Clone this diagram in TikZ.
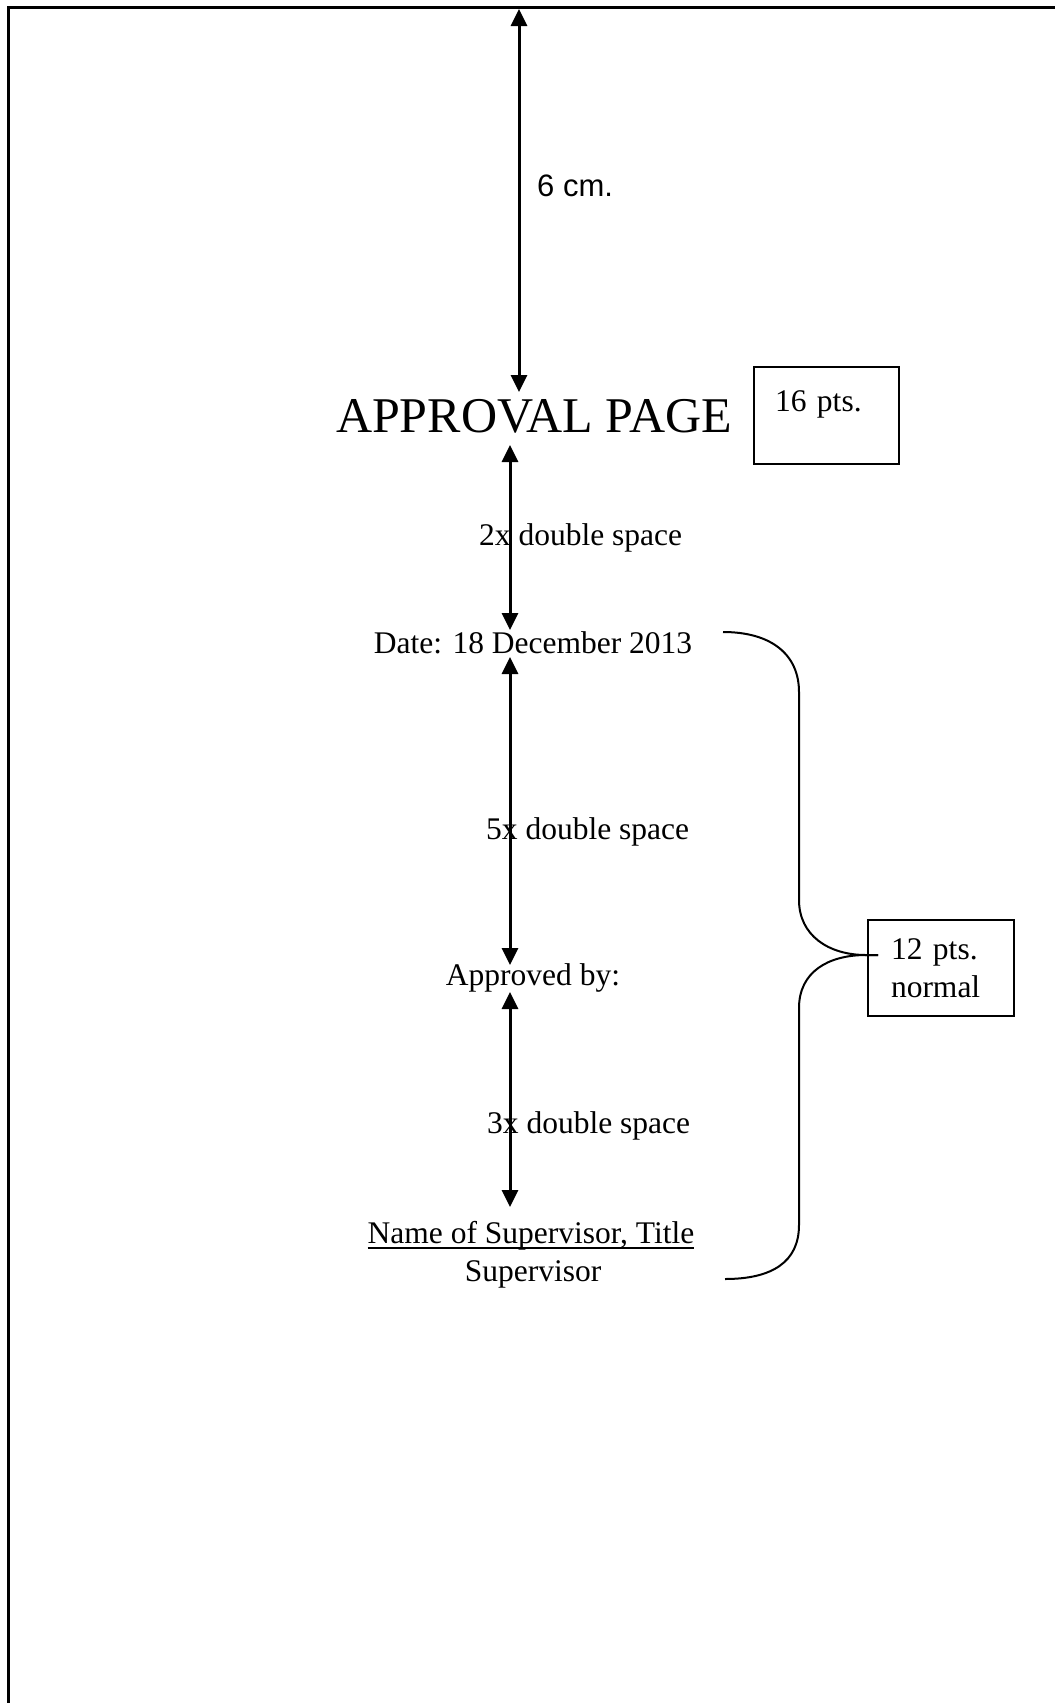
\documentclass[tikz,border=0pt]{standalone}
\usepackage{fontspec}
\setmainfont{Liberation Serif}
\newfontfamily\arialf{Liberation Sans}
\usetikzlibrary{arrows.meta}
\begin{document}
\begin{tikzpicture}[x=1pt,y=-1pt,
  dimarrow/.style={line width=3pt, {Triangle[length=17pt,width=16pt]}-{Triangle[length=17pt,width=16pt]}},
  txt/.style={inner sep=0pt, anchor=base, font=\fontsize{31.5}{38}\selectfont},
  lbl/.style={inner sep=0pt, anchor=base west, font=\fontsize{31.5}{38}\selectfont},
  thinline/.style={line width=2pt},
  ]
\useasboundingbox (0,0) rectangle (1055,1703);
% page frame
\draw[line width=3pt, line join=miter] (1055,7) -- (8,7) -- (8,1703);

% texts
\node[inner sep=0pt, anchor=base, font=\fontsize{50}{60}\selectfont] (title) at (534,432) {APPROVAL PAGE};
\node[txt] (date) at (533,653) {Date: 18 December 2013};
\node[txt] (appr) at (533,985) {Approved by:};
\node[txt] (name) at (531,1243) {Name of Supervisor, Title};
\node[txt] (sup) at (533,1281) {Supervisor};
\draw[thinline] ([yshift=-5pt]name.base west) -- ([yshift=-5pt]name.base east);

% boxes
\node[draw, thinline, anchor=north west, inner xsep=21pt, inner ysep=0pt,
      text width=103pt, text height=44pt, text depth=53pt, align=left,
      font=\fontsize{31.5}{38}\selectfont] (box16) at (753,366) {16 pts.};
\node[draw, thinline, anchor=north west, inner xsep=23pt, inner ysep=0pt,
      text width=100pt, minimum height=96pt, align=left,
      font=\fontsize{31.5}{38}\selectfont] (box12) at (867,919) {12 pts.\\normal};

% dimension arrows
\coordinate (a1t) at (519,9);
\coordinate (a1b) at (519,392);
\draw[dimarrow] (a1t) -- (a1b);
\node[inner sep=0pt, anchor=base west, font=\arialf\fontsize{31}{37}\selectfont] (l6) at (537,196) {6 cm.};

\coordinate (a2t) at (510,445);
\coordinate (a2b) at (510,630);
\draw[dimarrow] (a2t) -- (a2b);
\node[lbl] (l2) at (479,545) {2x double space};

\coordinate (a3t) at (510,657);
\coordinate (a3b) at (510,965);
\draw[dimarrow] (a3t) -- (a3b);
\node[lbl] (l5) at (486,839) {5x double space};

\coordinate (a4t) at (510,992);
\coordinate (a4b) at (510,1207);
\draw[dimarrow] (a4t) -- (a4b);
\node[lbl] (l3) at (487,1133) {3x double space};

% brace
\coordinate (btop) at (723,632);
\coordinate (bbot) at (725,1279);
\coordinate (btip) at (878,955);
\draw[thinline] (btop) .. controls (772,632) and (799,655) .. (799,692)
  -- (799,900) .. controls (799,935) and (828,955) .. (866,955) -- (btip);
\draw[thinline] (btip) -- (866,955) .. controls (828,955) and (799,972) .. (799,1008)
  -- (799,1225) .. controls (799,1262) and (772,1279) .. (bbot);
\end{tikzpicture}
\end{document}
